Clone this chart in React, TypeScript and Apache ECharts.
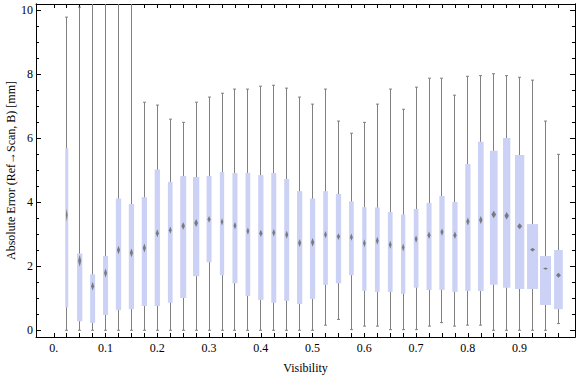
import React, { useEffect, useRef } from "react";
import * as echarts from "echarts";

// Bin centres (Visibility)
const visibility = [
  0.025, 0.05, 0.075, 0.1, 0.125, 0.15, 0.175, 0.2, 0.225, 0.25,
  0.275, 0.3, 0.325, 0.35, 0.375, 0.4, 0.425, 0.45, 0.475, 0.5,
  0.525, 0.55, 0.575, 0.6, 0.625, 0.65, 0.675, 0.7, 0.725, 0.75,
  0.775, 0.8, 0.825, 0.85, 0.875, 0.9, 0.925, 0.95, 0.975,
];
const whiskerHigh = [
  9.79, 10.1, 14, 14, 14, 14, 7.13, 7.04, 6.6, 6.5,
  7.13, 7.29, 7.41, 7.54, 7.54, 7.63, 7.66, 7.57, 7.29, 7.07,
  7.54, 6.54, 6.16, 6.5, 7.07, 7.54, 6.91, 7.6, 7.88, 7.88,
  7.35, 7.94, 7.96, 8.02, 7.96, 7.91, 7.82, 6.54, 5.5,
];
const q3 = [
  5.69, 2.4, 1.75, 2.32, 4.12, 3.95, 4.16, 5.03, 4.64, 4.82,
  4.79, 4.82, 4.95, 4.92, 4.92, 4.85, 4.92, 4.73, 4.35, 4.12,
  4.35, 4.26, 4.03, 3.85, 3.84, 3.7, 3.62, 3.79, 3.98, 4.2,
  4.01, 5.2, 5.89, 5.61, 6.01, 5.48, 3.32, 2.32, 2.51,
];
const median = [
  3.6, 2.17, 1.38, 1.79, 2.51, 2.42, 2.57, 3.03, 3.13, 3.26,
  3.35, 3.47, 3.39, 3.27, 3.1, 3.03, 3.05, 2.99, 2.73, 2.75,
  2.99, 2.93, 2.91, 2.72, 2.8, 2.67, 2.59, 2.85, 2.97, 3.07,
  2.97, 3.4, 3.45, 3.62, 3.58, 3.25, 2.52, 1.93, 1.72,
];
const q1 = [
  0.71, 0.28, 0.23, 0.48, 0.63, 0.66, 0.76, 0.76, 0.86, 1.01,
  1.69, 2.13, 1.72, 1.47, 1.07, 0.95, 0.86, 0.92, 0.82, 0.98,
  1.42, 1.47, 1.72, 1.23, 1.2, 1.2, 1.14, 1.33, 1.26, 1.26,
  1.2, 1.23, 1.23, 1.42, 1.33, 1.29, 1.29, 0.79, 0.66,
];
const whiskerLow = [
  0, 0, 0, 0, 0, 0, 0, 0, 0, 0,
  0, 0, 0, 0, 0, 0, 0, 0, 0, 0,
  0.16, 0.34, 0.02, 0.13, 0.13, 0.02, 0.02, 0.02, 0.13, 0.24,
  0.13, 0.16, 0.16, 0, 0, 0, 0, 0, 0.21,
];
// Box widths (in Visibility units, reflect bin sample size)
const boxWidth = [
  0.0058, 0.0102, 0.0097, 0.0097, 0.0102, 0.0102, 0.0102, 0.0102, 0.0091, 0.0116,
  0.0122, 0.0097, 0.0083, 0.0097, 0.0091, 0.0102, 0.0097, 0.0097, 0.0102, 0.0102,
  0.0091, 0.0102, 0.0091, 0.0083, 0.0091, 0.0091, 0.0083, 0.0091, 0.0097, 0.0102,
  0.0102, 0.0102, 0.011, 0.0149, 0.0141, 0.018, 0.0213, 0.0213, 0.0168,
];
// Median confidence half-interval (mm)
const medianHalfCI = [
  0.2, 0.18, 0.14, 0.14, 0.135, 0.14, 0.14, 0.125, 0.115, 0.115,
  0.125, 0.105, 0.115, 0.115, 0.115, 0.115, 0.115, 0.125, 0.125, 0.135,
  0.115, 0.105, 0.115, 0.125, 0.125, 0.125, 0.125, 0.115, 0.115, 0.115,
  0.115, 0.125, 0.125, 0.12, 0.115, 0.095, 0.06, 0.036, 0.075,
];

const xTickValues = [0, ...visibility];
const xLabelValues = [0, 0.1, 0.2, 0.3, 0.4, 0.5, 0.6, 0.7, 0.8, 0.9];
const yMajorValues = [0, 2, 4, 6, 8, 10];
const yMinorValues = [
  0.5, 1, 1.5, 2.5, 3, 3.5, 4.5, 5, 5.5, 6.5, 7, 7.5, 8.5, 9, 9.5,
];
const xTitle = "Visibility";
const yTitle = "Absolute Error (Ref\u2192Scan, B) [mm]";

const X_MIN = -0.0344;
const X_MAX = 1.007;
const Y_MIN = -0.21;
const Y_MAX = 10.2;
const FONT = "Liberation Serif";

export default function App() {
  const ref = useRef<HTMLDivElement>(null);

  useEffect(() => {
    if (!ref.current) return;
    const chart = echarts.init(ref.current, null, { renderer: "svg" });
    const data = visibility.map((v, i) => [
      v, whiskerLow[i], q1[i], median[i], q3[i], whiskerHigh[i], boxWidth[i], medianHalfCI[i],
    ]);
    const frame = { show: true, onZero: false, lineStyle: { color: "#000", width: 1 } };
    const tickStyle = { color: "#000", width: 1 };
    const baseX = {
      type: "value",
      min: X_MIN,
      max: X_MAX,
      splitLine: { show: false },
      axisLine: frame,
    };
    const baseY = {
      type: "value",
      min: Y_MIN,
      max: Y_MAX,
      splitLine: { show: false },
      axisLine: frame,
    };
    chart.setOption({
      animation: false,
      backgroundColor: "#fff",
      grid: {
        left: 36,
        right: 1,
        top: 4,
        bottom: 40,
        containLabel: false,
        outerBoundsMode: "none",
      },
      graphic: [
        {
          type: "text",
          x: 11,
          y: 170.5,
          rotation: Math.PI / 2,
          style: {
            text: yTitle,
            fill: "#000",
            font: `12px "${FONT}"`,
            align: "center",
            verticalAlign: "middle",
          },
        },
      ],
      xAxis: [
        {
          ...baseX,
          position: "bottom",
          axisTick: { show: true, inside: true, length: 4, customValues: xTickValues, lineStyle: tickStyle },
          axisLabel: {
            show: true,
            customValues: xLabelValues,
            formatter: (v: number) => (v === 0 ? "0." : v.toFixed(1)),
            margin: 5,
            color: "#000",
            fontFamily: FONT,
            fontSize: 12,
          },
          name: xTitle,
          nameLocation: "middle",
          nameGap: 25,
          nameTextStyle: { color: "#000", fontFamily: FONT, fontSize: 12 },
        },
        {
          ...baseX,
          position: "top",
          axisTick: { show: true, inside: true, length: 4, customValues: xTickValues, lineStyle: tickStyle },
          axisLabel: { show: false },
        },
      ],
      yAxis: [
        {
          ...baseY,
          position: "left",
          axisTick: { show: true, inside: true, length: 5, customValues: yMajorValues, lineStyle: tickStyle },
          axisLabel: {
            show: true,
            customValues: yMajorValues,
            formatter: (v: number) => String(v),
            margin: 3,
            color: "#000",
            fontFamily: FONT,
            fontSize: 12,
          },
        },
        {
          ...baseY,
          position: "left",
          axisTick: { show: true, inside: true, length: 3, customValues: yMinorValues, lineStyle: tickStyle },
          axisLabel: { show: false },
        },
        {
          ...baseY,
          position: "right",
          axisTick: { show: true, inside: true, length: 5, customValues: yMajorValues, lineStyle: tickStyle },
          axisLabel: { show: false },
        },
        {
          ...baseY,
          position: "right",
          axisTick: { show: true, inside: true, length: 3, customValues: yMinorValues, lineStyle: tickStyle },
          axisLabel: { show: false },
        },
      ],
      series: [
        {
          type: "custom",
          xAxisIndex: 0,
          yAxisIndex: 0,
          clip: true,
          data,
          encode: { x: 0, y: [1, 2, 3, 4, 5] },
          renderItem: (params: any, api: any) => {
            const x = api.value(0);
            const lo = api.value(1);
            const b1 = api.value(2);
            const med = api.value(3);
            const b3 = api.value(4);
            const hi = api.value(5);
            const bw = api.value(6);
            const ci = api.value(7);
            const pLo = api.coord([x, lo]);
            const pQ1 = api.coord([x, b1]);
            const pMed = api.coord([x, med]);
            const pQ3 = api.coord([x, b3]);
            const pHi = api.coord([x, hi]);
            const pCiTop = api.coord([x, med + ci]);
            const cx = pLo[0];
            const lx = Math.round(cx - 0.5) + 0.5;
            const w = api.size([bw, 0])[0];
            const h = Math.abs(pMed[1] - pCiTop[1]);
            const dw = Math.min(w * 0.3, 2.5);
            const wStyle = { stroke: "#808080", lineWidth: 1, fill: null };
            return {
              type: "group",
              children: [
                { type: "line", shape: { x1: lx, y1: pLo[1], x2: lx, y2: pHi[1] }, style: wStyle },
                { type: "line", shape: { x1: lx - 1.5, y1: pHi[1], x2: lx + 1.5, y2: pHi[1] }, style: wStyle },
                { type: "line", shape: { x1: lx - 1.5, y1: pLo[1], x2: lx + 1.5, y2: pLo[1] }, style: wStyle },
                {
                  type: "rect",
                  shape: { x: cx - w / 2, y: pQ3[1], width: w, height: pQ1[1] - pQ3[1] },
                  style: { fill: "#ccd2f5", stroke: null },
                },
                {
                  type: "polygon",
                  shape: {
                    points: [
                      [cx, pMed[1] - h],
                      [cx + dw, pMed[1]],
                      [cx, pMed[1] + h],
                      [cx - dw, pMed[1]],
                    ],
                  },
                  style: { fill: "#707070", stroke: null, opacity: 0.9 },
                },
              ],
            };
          },
        },
      ],
    });
    return () => chart.dispose();
  }, []);

  return (
    <div
      ref={ref}
      style={{ position: "fixed", left: 0, top: 0, width: 576, height: 377, background: "#fff" }}
    />
  );
}
